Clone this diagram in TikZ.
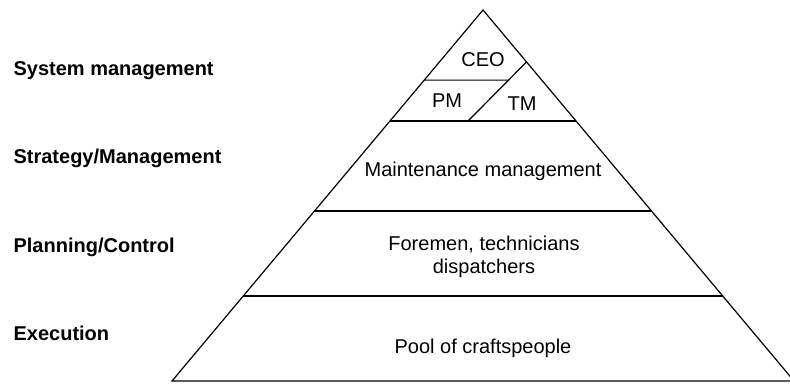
\documentclass[tikz,border=0pt]{standalone}
\usepackage{fontspec}
\setmainfont{Liberation Sans}
\usetikzlibrary{calc}

\begin{document}
\begin{tikzpicture}[x=1pt, y=-1pt, line width=1.2pt,
  level/.style={font=\fontsize{20}{23}\selectfont\bfseries, anchor=base west, inner sep=0pt},
  part/.style={font=\fontsize{20}{23}\selectfont, anchor=base, align=center, inner sep=0pt}]
\useasboundingbox (0,0) rectangle (790,383);
\coordinate (top) at (483,10);
\coordinate (bl) at (172,381);
\coordinate (br) at (794,381);
% outline
\draw (top) -- (bl) -- (br) -- cycle;
% levels
\coordinate (l0) at ($(top)!0.189!(bl)$);
\coordinate (r0) at ($(top)!0.189!(br)$);
\draw ($(top)!0.299!(bl)$) coordinate (l1) -- ($(top)!0.299!(br)$) coordinate (r1);
\draw ($(top)!0.542!(bl)$) coordinate (l2) -- ($(top)!0.542!(br)$) coordinate (r2);
\draw ($(top)!0.771!(bl)$) coordinate (l3) -- ($(top)!0.771!(br)$) coordinate (r3);
% PM / TM split
\coordinate (d1) at ($(l1)!0.42!(r1)$);
\coordinate (d2) at ($(top)!0.140!(br)$);
\draw (d1) -- (d2);
\draw (l0) -- (intersection of l0--r0 and d1--d2);
\node[level] (sysm) at (13,75) {System management};
\node[level] (strat) at (13,163) {Strategy/Management};
\node[level] (plan) at (13,252) {Planning/Control};
\node[level] (exec) at (13,340) {Execution};
\node[part] (ceo) at (483,66) {CEO};
\node[part] (pm) at (447,107) {PM};
\node[part] (tm) at (522,110) {TM};
\node[part] (mm) at (483,176) {Maintenance management};
\node[part] (fore) at (484,273) {Foremen, technicians\\dispatchers};
\node[part] (pool) at (483,353) {Pool of craftspeople};
\end{tikzpicture}
\end{document}
